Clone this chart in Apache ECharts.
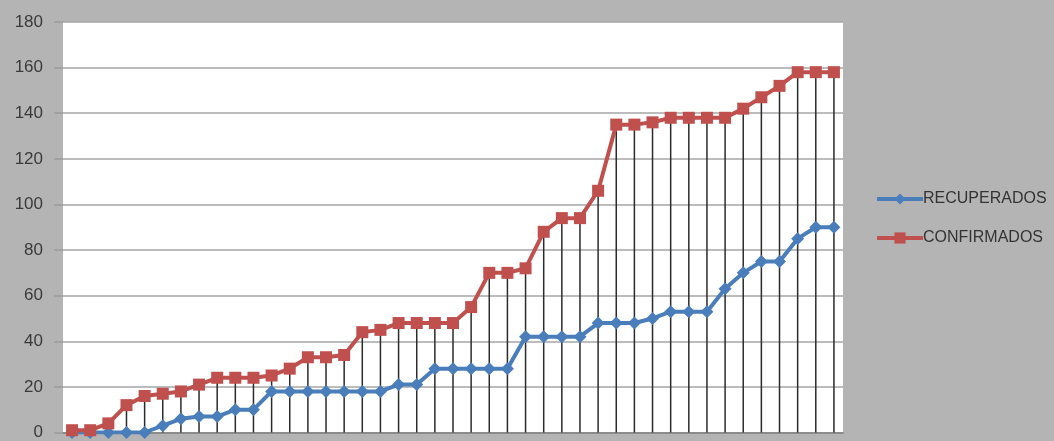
<!DOCTYPE html>
<html>
<head>
<meta charset="utf-8">
<script src="https://cdn.jsdelivr.net/npm/echarts@6/dist/echarts.min.js"></script>
<style>
html,body{margin:0;padding:0;background:#b4b4b4;}
#c{width:1054px;height:441px;}
</style>
</head>
<body>
<div id="c"></div>
<script>
const categories = Array.from({length: 43}, (_, i) => String(i + 1));
const recuperados = [0,0,0,0,0,3,6,7,7,10,10,18,18,18,18,18,18,18,21,21,28,28,28,28,28,42,42,42,42,48,48,48,50,53,53,53,63,70,75,75,85,90,90];
const confirmados = [1,1,4,12,16,17,18,21,24,24,24,25,28,33,33,34,44,45,48,48,48,48,55,70,70,72,88,94,94,106,135,135,136,138,138,138,138,142,147,152,158,158,158];
const yTicks = { min: 0, max: 180, interval: 20 };

const chart = echarts.init(document.getElementById('c'));
chart.setOption({
  backgroundColor: '#b4b4b4',
  animation: false,
  grid: { left: 63, right: 211, top: 22, bottom: 6, show: true, backgroundColor: '#ffffff', borderWidth: 0 },
  legend: {
    data: ['RECUPERADOS', 'CONFIRMADOS'],
    orient: 'vertical',
    left: 870, top: 186,
    itemWidth: 46, itemHeight: 14, itemGap: 23,
    lineStyle: { width: 4 },
    textStyle: { fontFamily: 'Liberation Sans, sans-serif', fontSize: 16, color: '#333333', padding: [0,0,0,-5] }
  },
  xAxis: {
    type: 'category', data: categories, boundaryGap: true,
    axisLine: { lineStyle: { color: '#8c8c8c', width: 2 } },
    axisTick: { show: false }, axisLabel: { show: false }
  },
  yAxis: {
    type: 'value', min: yTicks.min, max: yTicks.max, interval: yTicks.interval,
    axisLine: { show: false },
    axisTick: { show: true, length: 9, lineStyle: { color: '#9a9a9a', width: 1.5 } },
    axisLabel: { fontFamily: 'Liberation Sans, sans-serif', fontSize: 17, color: '#3a3a3a', margin: 20 },
    splitLine: { lineStyle: { color: '#a6a6a6', width: 1.5 } }
  },
  series: [
    { name: 'drop', type: 'bar', data: confirmados, barWidth: 1.5, z: 1, silent: true,
      itemStyle: { color: '#2b2b2b' } },
    { name: 'RECUPERADOS', type: 'line', data: recuperados, z: 3,
      symbol: 'diamond', symbolSize: 13, showAllSymbol: true,
      lineStyle: { color: '#4a7ebb', width: 4 },
      itemStyle: { color: '#4a7ebb' } },
    { name: 'CONFIRMADOS', type: 'line', data: confirmados, z: 4,
      symbol: 'rect', symbolSize: 12, showAllSymbol: true,
      lineStyle: { color: '#c0504d', width: 4 },
      itemStyle: { color: '#c0504d' } }
  ]
});
</script>
</body>
</html>
